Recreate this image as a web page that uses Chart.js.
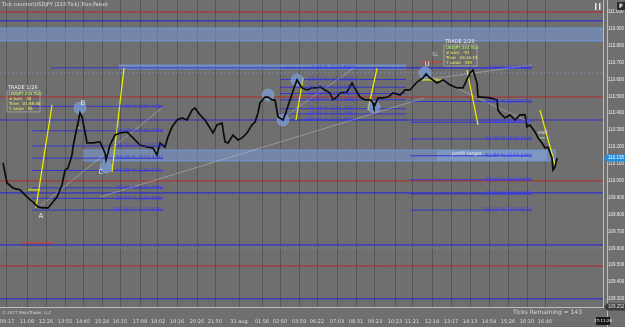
<!DOCTYPE html>
<html>
<head>
<meta charset="utf-8">
<script src="https://cdn.jsdelivr.net/npm/chart.js@4.4.0/dist/chart.umd.min.js"></script>
<style>
  html, body { margin: 0; padding: 0; background: #6f6f6f; }
  canvas { display: block; }
</style>
</head>
<body>
<canvas id="graficoTicks" width="625" height="327"></canvas>
<script>
// Barras (indice) y cierres
const precioBarra = [1.5,3.5,6.5,10,13.5,16.5,19,21.5,24,26.5,28.5,31,32.5,34,36,36.5,38,39,40,41,42.5,43.5,46.5,50,52.5,53,55,57.5,60,63.5,66.5,70,73.5,76.5,78.5,80,82.5,84,86,88.5,91,93.5,96,97.5,100,102.5,105,106.5,108.5,111,112.5,114,116.5,119,121,123.5,126,127.5,129,130,132.5,134,136,137.5,139,141.5,142.5,145,147,148.5,151,153.5,156,158.5,160,162.5,165,166.5,168.5,170,173.5,176,178.5,180,182.5,185,186.5,187,189,191.5,194,196.5,200,202.5,205,208.5,211.5,213,215,218.5,221.5,225,228.5,231.5,235,236.5,238.5,239,241.5,245,248.5,249,250,252.5,255,257.5,260,262.5,263.5,265,267.5,269,271,272.5,274,276,276.5,277.5,278.5];
const precioCierre = [110.106,109.987,109.957,109.946,109.904,109.874,109.845,109.839,109.839,109.874,109.904,109.975,110.064,110.076,110.153,110.200,110.289,110.342,110.402,110.378,110.289,110.224,110.224,110.230,110.165,110.123,110.212,110.271,110.283,110.289,110.254,110.212,110.200,110.194,110.153,110.224,110.200,110.260,110.319,110.360,110.372,110.360,110.419,110.431,110.390,110.360,110.313,110.283,110.331,110.342,110.230,110.224,110.271,110.242,110.254,110.283,110.331,110.348,110.402,110.461,110.496,110.496,110.479,110.479,110.378,110.360,110.390,110.479,110.550,110.597,110.550,110.538,110.550,110.550,110.556,110.538,110.520,110.479,110.496,110.520,110.526,110.579,110.526,110.496,110.479,110.479,110.461,110.437,110.491,110.491,110.496,110.520,110.508,110.538,110.538,110.585,110.609,110.633,110.609,110.579,110.597,110.568,110.550,110.550,110.639,110.656,110.579,110.496,110.496,110.491,110.479,110.419,110.402,110.372,110.390,110.360,110.390,110.390,110.319,110.331,110.289,110.254,110.224,110.194,110.200,110.135,110.064,110.082,110.135];

const etiquetasHora = ['09:17','11:08','12:26','13:55','14:45','15:24','16:15','17:09','18:02','19:16','20:26','21:50','31 aug','01:56','02:50','03:59','06:22','07:03','08:31','09:23','10:23','11:21','12:14','13:17','14:13','14:54','15:26','16:10','16:40'];
const barrasHora = [3.5,13.5,23,32.5,41.5,51,60,70,79,88.5,98.5,107.5,119.5,131,140,149.5,158.5,168.5,178,187.5,197.5,206,216,225.5,235,244.5,254,263.5,272.5];
const ticksPrecio = [111.0,110.9,110.8,110.7,110.6,110.5,110.4,110.3,110.2,110.1,110.0,109.9,109.8,109.7,109.6,109.5,109.4,109.3];

// Niveles horizontales de todo el ancho
const nivelesRojos = [111.000, 110.496, 109.999, 109.495];
const nivelesAzules = [110.947, 110.360, 109.928, 109.620, 109.300];
const nivelPunteado = [110.639, 109.602];

// Zonas sombreadas: [precio alto, precio bajo, barra inicio, barra fin]
const zonaSuperior = [110.905, 110.828, 0, 301.5];
const zonaMedia = [110.182, 110.117, 41.5, 278];
const zonaFina = [110.686, 110.662, 59.5, 203];
const zonaObjetivo = [110.180, 110.119, 218.5, 273.5];

// Retrocesos de Fibonacci
const fibPorcentajes = ['0.00','23.60','38.20','50.00','61.80','78.60','88.60','100.00'];
const fib1Niveles = [110.441, 110.296, 110.206, 110.134, 110.061, 109.958, 109.896, 109.826];
const fib2Niveles = [110.669, 110.600, 110.554, 110.517, 110.480, 110.427, 110.396, 110.360];
const fib3Niveles = [110.669, 110.470, 110.347, 110.248, 110.148, 110.006, 109.922, 109.826];
const fib1Rango = [16, 81.5, 81.5];   // inicio, fin, borde derecho del texto
const fib2Rango = [140, 203, 177.5];
const fib3Rango = [205, 266, 266];
const fib0Largo = [25.5, 266];        // la linea 0 % que cruza el grafico

// Lineas amarillas y diagonales grises: [barra1, precio1, barra2, precio2]
const lineasAmarillas = [
  [18, 109.839, 26, 110.449],
  [56, 110.052, 62, 110.668],
  [148, 110.360, 151.5, 110.609],
  [184, 110.419, 188.5, 110.668],
  [233.5, 110.656, 239, 110.331],
  [270, 110.419, 277.5, 110.094]
];
const lineasGrises = [
  [19, 109.839, 81.5, 110.437],
  [50, 109.904, 212, 110.490],
  [140, 110.360, 177, 110.669],
  [211.5, 110.597, 266, 110.686],
  [212, 110.639, 266, 110.340]
];
// Marcas cortas: [barra1, barra2, precio]
const marcasRojas = [[11, 26.5, 109.632], [211, 221, 110.704]];
const marcasAmarillas = [[14, 20, 109.946], [211, 221, 110.597]];
const marcasVerdes = [[38, 40, 110.313], [269, 272.5, 110.254]];

// Circulos de los pivotes
const circuloBarra = [40, 53, 134, 141.5, 148.5, 187, 212.5];
const circuloPrecio = [110.431, 110.082, 110.508, 110.360, 110.597, 110.437, 110.639];

// Textos sobre el grafico
const notaTexto = ['A','B','C','U','SL','profit target','exit'];
const notaBarra = [20.5, 41.5, 50.5, 213.5, 217.5, 233.5, 271.5];
const notaPrecio = [109.791, 110.461, 110.052, 110.692, 110.745, 110.159, 110.283];

const trade1Texto = ['USDJPY 233 Tick', '# bars   38', 'Time   01:55:46', 'Y value   56'];
const trade2Texto = ['USDJPY 233 Tick', '# bars   -91', 'Time   04:16:15', 'Y value   345'];
const tradeAncla = [[4, 110.550, 'TRADE 1/26'], [222.5, 110.822, 'TRADE 2/20']];

const ultimoPrecio = 110.135;
const precioMinimo = 109.252;
const precioMaximo = 111.071;
const barraMaxima = 301.5;

(() => {
    const datasets = [];
    const segmento = (x1, y1, x2, y2) => [{ x: x1, y: y1 }, { x: x2, y: y2 }];

    datasets.push({
        data: precioBarra.map((b, i) => ({ x: b, y: precioCierre[i] })),
        borderColor: '#0c0c0c', borderWidth: 1.7, pointRadius: 0, order: 0
    });

    datasets.push({
        type: 'scatter',
        data: circuloBarra.map((b, i) => ({ x: b, y: circuloPrecio[i] })),
        pointRadius: 6, pointBackgroundColor: 'rgba(125,165,225,0.65)',
        pointBorderColor: 'rgba(150,185,240,0.8)', pointBorderWidth: 0.5, order: 1
    });

    lineasAmarillas.forEach(l => datasets.push({
        data: segmento(...l), borderColor: '#f2f200', borderWidth: 1.2, pointRadius: 0, order: 2
    }));
    marcasAmarillas.forEach(m => datasets.push({
        data: segmento(m[0], m[2], m[1], m[2]), borderColor: '#f2f200', borderWidth: 1, pointRadius: 0, order: 2
    }));
    marcasVerdes.forEach(m => datasets.push({
        data: segmento(m[0], m[2], m[1], m[2]), borderColor: '#9be08a', borderWidth: 1, pointRadius: 0, order: 2
    }));
    marcasRojas.forEach(m => datasets.push({
        data: segmento(m[0], m[2], m[1], m[2]), borderColor: '#e03030', borderWidth: 1, pointRadius: 0, order: 2
    }));
    lineasGrises.forEach(l => datasets.push({
        data: segmento(...l), borderColor: 'rgba(200,200,200,0.6)', borderWidth: 0.8, pointRadius: 0, order: 3
    }));

    [[fib1Niveles, fib1Rango], [fib2Niveles, fib2Rango], [fib3Niveles, fib3Rango]].forEach(([niveles, rango]) => {
        niveles.forEach(p => datasets.push({
            data: segmento(rango[0], p, rango[1], p), borderColor: '#3535d0', borderWidth: 1, pointRadius: 0, order: 4
        }));
    });
    datasets.push({
        data: segmento(fib0Largo[0], fib2Niveles[0], fib0Largo[1], fib2Niveles[0]),
        borderColor: '#3535d0', borderWidth: 1, pointRadius: 0, order: 4
    });

    nivelesRojos.forEach(p => datasets.push({
        data: segmento(0, p, barraMaxima, p), borderColor: '#b52a2a', borderWidth: 1, pointRadius: 0, order: 5
    }));
    nivelesAzules.forEach(p => datasets.push({
        data: segmento(0, p, barraMaxima, p), borderColor: '#3030c8', borderWidth: 1.2, pointRadius: 0, order: 5
    }));
    nivelPunteado.forEach(p => datasets.push({
        data: segmento(0, p, barraMaxima, p), borderColor: 'rgba(130,150,190,0.8)', borderWidth: 0.8,
        borderDash: [2, 2], pointRadius: 0, order: 5
    }));

    // zonas: linea alta + linea baja rellena hasta la anterior
    [[zonaSuperior, 'rgba(120,155,215,0.55)', 'rgba(110,160,240,0.9)'],
     [zonaMedia, 'rgba(120,155,215,0.55)', 'rgba(110,160,240,0.9)'],
     [zonaFina, 'rgba(120,155,215,0.6)', 'rgba(110,160,240,0.9)'],
     [zonaObjetivo, 'rgba(165,200,235,0.45)', 'rgba(165,200,235,0.0)']].forEach(([z, relleno, borde]) => {
        datasets.push({ data: segmento(z[2], z[0], z[3], z[0]), borderColor: borde, borderWidth: 0.8, pointRadius: 0, order: 6 });
        datasets.push({ data: segmento(z[2], z[1], z[3], z[1]), borderColor: borde, borderWidth: 0.8, pointRadius: 0,
                        fill: '-1', backgroundColor: relleno, order: 6 });
    });

    const anotaciones = {
        id: 'anotaciones',
        afterDatasetsDraw(chart) {
            const { ctx, chartArea: area, scales: { x, y } } = chart;
            ctx.save();
            ctx.font = '5px "DejaVu Sans"';
            ctx.textBaseline = 'middle';

            // etiquetas de Fibonacci
            ctx.fillStyle = '#3a3aff';
            ctx.textAlign = 'right';
            [[fib1Niveles, fib1Rango], [fib2Niveles, fib2Rango], [fib3Niveles, fib3Rango]].forEach(([niveles, rango]) => {
                niveles.forEach((p, i) => {
                    ctx.fillText(`${fibPorcentajes[i]} % (${p.toFixed(3)})`, x.getPixelForValue(rango[2]), y.getPixelForValue(p));
                });
            });

            // letras y notas
            ctx.textAlign = 'center';
            notaTexto.forEach((t, i) => {
                ctx.font = t.length == 1 ? '7px "DejaVu Sans"' : '5px "DejaVu Sans"';
                ctx.fillStyle = t == 'SL' ? '#d8c0c0' : '#e6e6e6';
                ctx.fillText(t, x.getPixelForValue(notaBarra[i]), y.getPixelForValue(notaPrecio[i]));
            });

            // cajas de trade
            [trade1Texto, trade2Texto].forEach((lineas, k) => {
                const [b, p, titulo] = tradeAncla[k];
                const px = x.getPixelForValue(b), py = y.getPixelForValue(p);
                ctx.textAlign = 'left';
                ctx.font = '5px "DejaVu Sans"';
                ctx.fillStyle = '#f0f0f0';
                ctx.fillText(titulo, px, py);
                ctx.strokeStyle = '#a8a8a8';
                ctx.lineWidth = 0.8;
                ctx.strokeRect(px - 1, py + 3, 33, 21);
                ctx.font = '4px "DejaVu Sans"';
                lineas.forEach((l, j) => {
                    ctx.fillStyle = j == 0 ? '#b8ff60' : '#f0f060';
                    ctx.fillText(l, px + 1, py + 6 + j * 5);
                });
            });

            // titulo
            ctx.textAlign = 'left';
            ctx.font = '5px "DejaVu Sans"';
            ctx.fillStyle = '#e0e0e0';
            ctx.fillText('Tick counter(USDJPY (233 Tick),True,False)', 2, 5);

            // bordes del area del grafico
            ctx.strokeStyle = '#bdbdbd';
            ctx.lineWidth = 1;
            ctx.beginPath();
            ctx.moveTo(area.left, area.bottom + 0.5); ctx.lineTo(625, area.bottom + 0.5);
            ctx.moveTo(area.right + 0.5, 0); ctx.lineTo(area.right + 0.5, area.bottom);
            ctx.moveTo(area.right + 4.5, 0); ctx.lineTo(area.right + 4.5, 327);
            ctx.stroke();

            // pie
            ctx.fillStyle = '#d8d8d8';
            ctx.font = '4px "DejaVu Sans"';
            ctx.fillText('\u00a9 2017 NinjaTrader, LLC', 2, area.bottom + 6);
            ctx.font = '6px "DejaVu Sans"';
            ctx.textAlign = 'right';
            ctx.fillText('Ticks Remaining = 143', 582, area.bottom + 5);

            // etiquetas de precio en el eje
            const etiqueta = (valor, fondo, texto) => {
                const py = y.getPixelForValue(valor);
                ctx.fillStyle = fondo;
                ctx.beginPath();
                ctx.moveTo(area.right + 1, py);
                ctx.lineTo(area.right + 4, py - 3.5);
                ctx.lineTo(625, py - 3.5);
                ctx.lineTo(625, py + 3.5);
                ctx.lineTo(area.right + 4, py + 3.5);
                ctx.closePath();
                ctx.fill();
                ctx.fillStyle = texto;
                ctx.textAlign = 'left';
                ctx.font = '4.5px "Liberation Sans"';
                ctx.fillText(valor.toFixed(3), area.right + 5, py);
            };
            etiqueta(ultimoPrecio, '#1f8fe0', '#ffffff');
            etiqueta(precioMinimo, '#3a3a3a', '#e0e0e0');

            // reloj y cajas de control
            ctx.fillStyle = '#1a1a1a';
            ctx.fillRect(596, 317, 14, 8);
            ctx.fillStyle = '#f0f0f0';
            ctx.font = '4px "DejaVu Sans"';
            ctx.textAlign = 'center';
            ctx.fillText('17:11:26', 603, 321);
            ctx.fillStyle = '#2a2a2a';
            ctx.fillRect(617, 2, 8, 8);
            ctx.fillStyle = '#f0f0f0';
            ctx.font = 'bold 6px "DejaVu Sans"';
            ctx.fillText('F', 621, 6.5);
            ctx.fillStyle = '#e8e8e8';
            ctx.fillRect(595, 3, 1.5, 7);
            ctx.fillRect(599, 3, 1.5, 7);
            ctx.restore();
        }
    };

    new Chart(document.getElementById('graficoTicks'), {
        type: 'line',
        data: { datasets },
        options: {
            responsive: false,
            animation: false,
            devicePixelRatio: 1,
            layout: { padding: 0, autoPadding: false },
            plugins: { legend: { display: false }, tooltip: { enabled: false } },
            scales: {
                x: {
                    type: 'linear', min: 0, max: barraMaxima,
                    afterBuildTicks: eje => { eje.ticks = barrasHora.map(v => ({ value: v })); },
                    afterFit: eje => { eje.height = 20; eje.paddingLeft = 0; eje.paddingRight = 0; },
                    grid: { color: 'rgba(75,75,75,0.7)', lineWidth: 1, tickLength: 0 },
                    border: { display: false },
                    ticks: {
                        autoSkip: false, maxRotation: 0, padding: 12, color: '#dcdcdc',
                        font: { size: 5, family: 'DejaVu Sans' },
                        callback: (v, i) => etiquetasHora[i]
                    }
                },
                y: {
                    position: 'right', min: precioMinimo, max: precioMaximo,
                    afterBuildTicks: eje => { eje.ticks = ticksPrecio.map(v => ({ value: v })); },
                    afterFit: eje => { eje.width = 22; eje.paddingTop = 0; eje.paddingBottom = 0; },
                    grid: { display: false, tickLength: 0 },
                    border: { display: false },
                    ticks: {
                        padding: 5, color: '#ececec',
                        font: { size: 4.5, family: 'Liberation Sans' },
                        callback: v => v.toFixed(3)
                    }
                }
            }
        },
        plugins: [anotaciones]
    });
})();
</script>
</body>
</html>
